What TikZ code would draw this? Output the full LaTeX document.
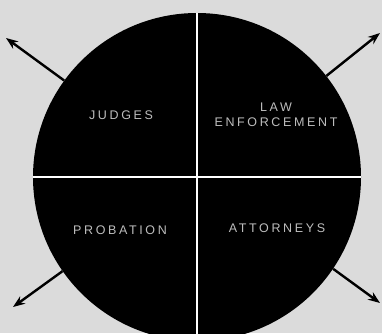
\documentclass[tikz,border=0pt]{standalone}
\usepackage{fontspec}
\newfontfamily\quadfont[LetterSpace=21]{Liberation Sans}
\usetikzlibrary{arrows.meta}
\definecolor{paper}{gray}{0.86}
\definecolor{inkgray}{gray}{0.74}

\begin{document}
\begin{tikzpicture}[x=1pt, y=-1pt, >={Stealth[length=12pt,width=9pt]},
  quad/.style={text=inkgray, font=\quadfont\fontsize{12.5}{15}\selectfont, align=center, inner sep=0pt},
  spoke/.style={->, line width=2.4pt},
  seam/.style={white, line width=1.8pt}]
  \fill[paper] (0,0) rectangle (382,333);
  \useasboundingbox (0,0) rectangle (382,333);
  \clip (0,0) rectangle (382,333);
  \node[circle, fill=black, minimum size=328pt, inner sep=0pt] (core) at (197,177) {};
  \draw[seam] (core.north) -- (core.south);
  \draw[seam] (core.west) -- (core.east);
  \node[quad] (judges) at (121,115) {JUDGES};
  \node[quad] (law) at (276,115) {LAW\\ENFORCEMENT};
  \node[quad] (probation) at (120,230) {PROBATION};
  \node[quad] (attorneys) at (277,228) {ATTORNEYS};
  \coordinate (nw) at (6,38);
  \coordinate (ne) at (380,33);
  \coordinate (sw) at (13,307);
  \coordinate (se) at (380,303);
  \draw[spoke] (core.144) -- (nw);
  \draw[spoke] (core.38) -- (ne);
  \draw[spoke] (core.215) -- (sw);
  \draw[spoke] (core.-34) -- (se);
\end{tikzpicture}
\end{document}
